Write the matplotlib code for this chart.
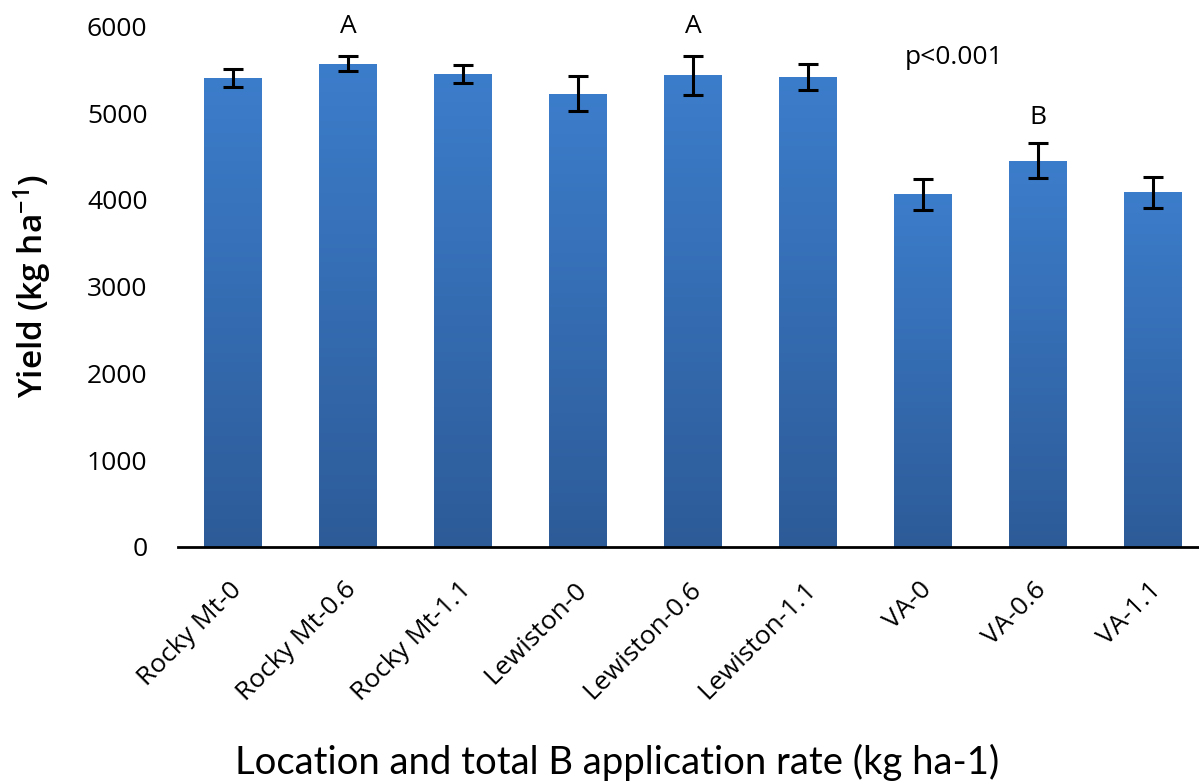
import numpy as np
import matplotlib
matplotlib.use('Agg')
import matplotlib.pyplot as plt
import matplotlib.transforms as mtransforms
from matplotlib.colors import LinearSegmentedColormap
from matplotlib.patches import Rectangle

plt.rcParams['font.family'] = ['Open Sans', 'DejaVu Sans']
plt.rcParams['mathtext.default'] = 'regular'

# data
categories = ['Rocky Mt-0', 'Rocky Mt-0.6', 'Rocky Mt-1.1',
              'Lewiston-0', 'Lewiston-0.6', 'Lewiston-1.1',
              'VA-0', 'VA-0.6', 'VA-1.1']
yield_mean = [5410, 5572, 5457, 5225, 5437, 5422, 4066, 4451, 4089]
yield_err = [105, 83, 104, 200, 222, 150, 178, 200, 177]

# significance letters (category index, letter, height)
letters = [(1, 'A', 6000), (4, 'A', 6000), (7, 'B', 4950)]
p_text = 'p<0.001'

fig = plt.figure(figsize=(11.99, 7.82), dpi=100)
ax = fig.add_axes([178 / 1199, 235.3 / 782, 1 - 178 / 1199, 520.2 / 782])

x = np.arange(len(categories))
width = 0.5

# bars with a vertical gradient (light on top, darker at bottom)
cmap = LinearSegmentedColormap.from_list('bar', ['#2d5b98', '#3c7dcb'])
grad = np.linspace(0, 1, 256).reshape(-1, 1)
for xi, h in zip(x, yield_mean):
    rect = Rectangle((xi - width / 2, 0), width, h, facecolor='none',
                     edgecolor='none')
    ax.add_patch(rect)
    im = ax.imshow(grad, cmap=cmap, origin='lower', aspect='auto',
                   extent=(xi - width / 2, xi + width / 2, 0, h), zorder=2)
    im.set_clip_path(rect)

ax.errorbar(x, yield_mean, yerr=yield_err, fmt='none', ecolor='black',
            elinewidth=2.2, capsize=7, capthick=2.2, zorder=3)

for i, lab, yv in letters:
    ax.text(i, yv, lab, ha='center', va='center', fontsize=19)
ax.text(6.27, 5640, p_text, ha='center', va='center', fontsize=19)

ax.set_xlim((178 - 233) / 115, (1199 - 233) / 115)
ax.set_ylim(0, 6000)
ax.set_yticks([0, 1000, 2000, 3000, 4000, 5000, 6000])
ax.tick_params(axis='y', length=0, labelsize=19, pad=22)
ax.set_xticks(x)
ax.set_xticklabels(categories, rotation=45, ha='right', va='top',
                   rotation_mode='anchor', fontsize=19)
ax.tick_params(axis='x', length=0, pad=22)
shift = mtransforms.ScaledTranslation(-3 / 72, 0, fig.dpi_scale_trans)
for lbl in ax.get_xticklabels():
    lbl.set_transform(lbl.get_transform() + shift)

for side in ['left', 'right', 'top']:
    ax.spines[side].set_visible(False)
ax.spines['bottom'].set_linewidth(2)
ax.spines['bottom'].set_zorder(4)

ax.set_ylabel('Yield (kg ha$^{-1}$)', fontsize=24, fontweight='semibold',
              labelpad=24)
fig.text(0.515, 0.025, 'Location and total B application rate (kg ha-1)',
         ha='center', va='center', fontsize=27.5, family=['Lato', 'DejaVu Sans'])

fig.savefig('out.png', dpi=100)
